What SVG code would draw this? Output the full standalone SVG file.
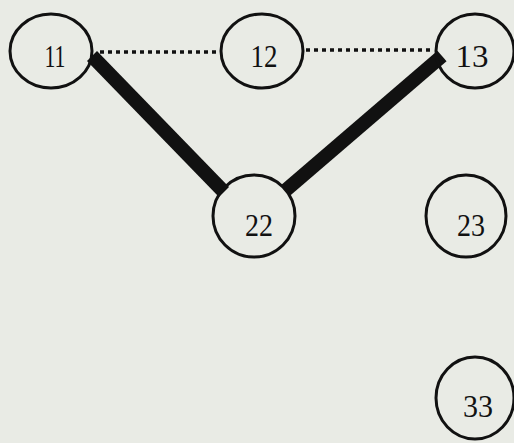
<svg xmlns="http://www.w3.org/2000/svg" width="514" height="443" viewBox="0 0 514 443">
<style>
.n{fill:none;stroke:#111;stroke-width:3}
.t{font-family:"Liberation Serif",serif;font-size:31px;fill:#111;text-anchor:middle}
.thick{stroke:#111;stroke-width:14;stroke-linecap:butt}
.dot{stroke:#111;stroke-width:3.5;stroke-dasharray:4 4}
</style>
<rect width="514" height="443" fill="#e9ebe5"/>
<g id="connectors">
<line class="dot" x1="100" y1="52" x2="220" y2="52"/>
<line class="dot" x1="306" y1="50" x2="432" y2="50"/>
<line class="thick" x1="92" y1="56" x2="224" y2="192"/>
<line class="thick" x1="442" y1="56" x2="286" y2="190"/>
</g>
<g id="n11"><ellipse class="n" cx="51" cy="51" rx="41" ry="37"/><text class="t" x="55" y="67" textLength="21" lengthAdjust="spacingAndGlyphs">11</text></g>
<g id="n12"><ellipse class="n" cx="262" cy="51" rx="41" ry="37"/><text class="t" x="264" y="67" textLength="27" lengthAdjust="spacingAndGlyphs">12</text></g>
<g id="n13"><ellipse class="n" cx="475" cy="51" rx="39" ry="37"/><text class="t" x="472" y="67" textLength="33" lengthAdjust="spacingAndGlyphs">13</text></g>
<g id="n22"><ellipse class="n" cx="254" cy="216" rx="41" ry="41"/><text class="t" x="259" y="236" textLength="28" lengthAdjust="spacingAndGlyphs">22</text></g>
<g id="n23"><ellipse class="n" cx="466" cy="216" rx="40" ry="41"/><text class="t" x="471" y="236" textLength="28" lengthAdjust="spacingAndGlyphs">23</text></g>
<g id="n33"><ellipse class="n" cx="475" cy="398" rx="39" ry="41"/><text class="t" x="478" y="417" textLength="30" lengthAdjust="spacingAndGlyphs">33</text></g>
</svg>
